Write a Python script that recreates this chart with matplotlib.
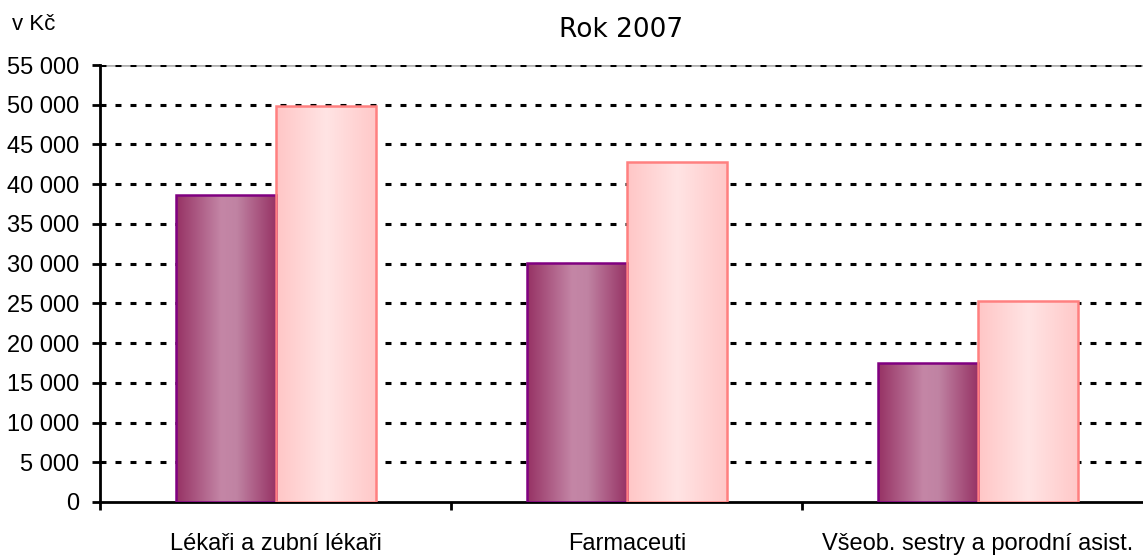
import numpy as np
import matplotlib
matplotlib.use("Agg")
import matplotlib.pyplot as plt
from matplotlib.colors import LinearSegmentedColormap
from matplotlib.ticker import FuncFormatter, FixedLocator

categories = ["Lékaři a zubní lékaři", "Farmaceuti", "Všeob. sestry a porodní asist."]
series_dark = [38600, 30100, 17500]
series_light = [49800, 42800, 25300]
yticks = list(range(0, 55001, 5000))

NARROW = ["Liberation Sans Narrow", "Liberation Sans", "DejaVu Sans"]

dark_cmap = LinearSegmentedColormap.from_list(
    "dark", [(0.0, "#963264"), (0.45, "#c486a6"), (0.6, "#c083a3"), (1.0, "#963264")])
light_cmap = LinearSegmentedColormap.from_list(
    "light", [(0.0, "#ffc6c6"), (0.5, "#ffe4e4"), (1.0, "#ffc8c8")])


def gradient_fill(ax, bars, cmap):
    grad = np.linspace(0, 1, 256).reshape(1, -1)
    for bar in bars:
        x0, y0 = bar.get_x(), bar.get_y()
        w, h = bar.get_width(), bar.get_height()
        im = ax.imshow(grad, cmap=cmap, aspect="auto", extent=(x0, x0 + w, y0, y0 + h),
                       zorder=bar.get_zorder() - 0.1, interpolation="bilinear")
        im.set_clip_path(bar)


fig = plt.figure(figsize=(11.43, 5.55), dpi=100)
ax = fig.add_axes([100 / 1143, 53 / 555, 1043 / 1143, 437 / 555])

x = np.arange(len(categories))
width = 0.285
bars_dark = ax.bar(x - width / 2, series_dark, width, facecolor="none",
                   edgecolor="#800080", linewidth=1.8, zorder=3)
bars_light = ax.bar(x + width / 2, series_light, width, facecolor="none",
                    edgecolor="#ff8080", linewidth=1.8, zorder=3)
gradient_fill(ax, bars_dark, dark_cmap)
gradient_fill(ax, bars_light, light_cmap)

plt.rcParams["lines.scale_dashes"] = False
ax.axhline(55000, color="#b0b0b0", linewidth=2.6, zorder=0.4)
for yv in yticks[1:]:
    ax.axhline(yv, color="black", linewidth=2.2, linestyle=(0, (4.3, 6.5)), zorder=0.5)

ax.set_xlim(-0.5, 2.47)
ax.set_ylim(0, 55000)

for side in ("top", "right"):
    ax.spines[side].set_visible(False)
for side in ("left", "bottom"):
    ax.spines[side].set_linewidth(2.0)
    ax.spines[side].set_color("black")

ax.set_yticks(yticks)
ax.yaxis.set_major_formatter(FuncFormatter(lambda v, p: f"{int(v):,}".replace(",", " ")))
ax.tick_params(axis="y", length=6, width=2.0, pad=9, labelsize=17)

ax.set_xticks(x)
ax.set_xticklabels(categories)
ax.xaxis.set_minor_locator(FixedLocator([-0.5, 0.5, 1.5]))
ax.tick_params(axis="x", which="major", length=0, pad=22, labelsize=17)
ax.tick_params(axis="x", which="minor", length=6, width=2.0)

for lbl in ax.get_xticklabels() + ax.get_yticklabels():
    lbl.set_family(NARROW)

fig.text(621 / 1143, 1 - 30 / 555, "Rok 2007", ha="center", va="center",
         fontsize=19, family=["DejaVu Sans"])
fig.text(12 / 1143, 1 - 25 / 555, "v Kč", ha="left", va="center",
         fontsize=16, family=NARROW)

fig.savefig("out.png", dpi=100, facecolor="white")
